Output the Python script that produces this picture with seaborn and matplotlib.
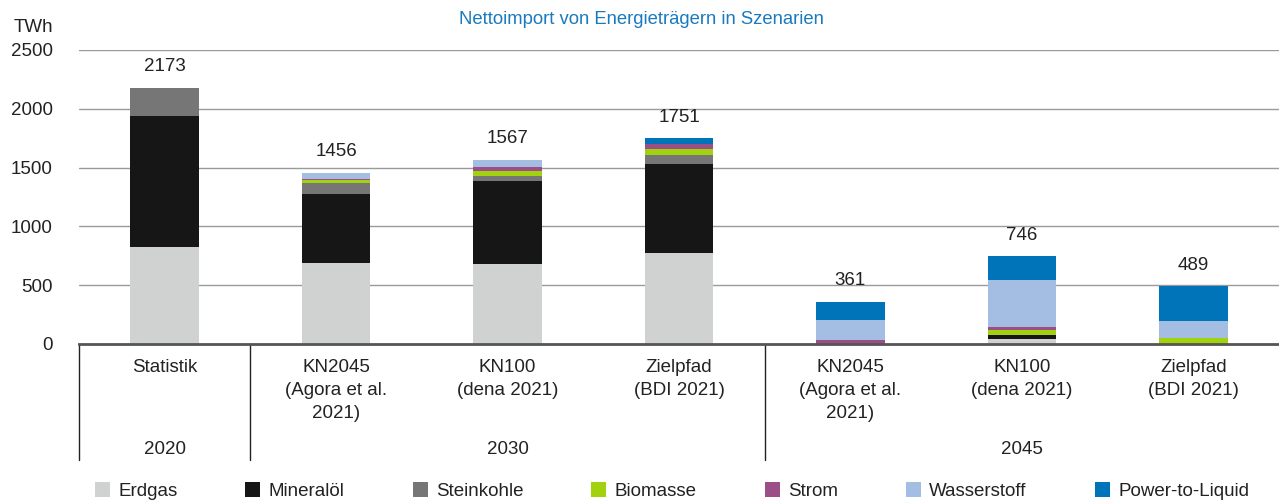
import matplotlib
matplotlib.use("Agg")
import matplotlib.pyplot as plt
import matplotlib.transforms as mtransforms
from matplotlib.patches import Patch
import numpy as np
import pandas as pd
import seaborn as sns

# ---------------- data ----------------
categories = ["Statistik",
              "KN2045\n(Agora et al.\n2021)", "KN100\n(dena 2021)", "Zielpfad\n(BDI 2021)",
              "KN2045\n(Agora et al.\n2021)", "KN100\n(dena 2021)", "Zielpfad\n(BDI 2021)"]
years = ["2020", "2030", "2045"]
year_groups = [[0], [1, 2, 3], [4, 5, 6]]

erdgas      = [826, 688, 678, 773,   0,  40,   0]
mineraloel  = [1110, 585, 706, 757,  0,  34,   0]
steinkohle  = [244,  95,  48,  80,   0,   0,   0]
biomasse    = [0,    25,  37,  48,   0,  48,  49]
strom       = [-7,   13,  40,  42,  30,  21,   0]
wasserstoff = [0,    50,  58,   0, 173, 404, 145]
ptl         = [0,     0,   0,  51, 158, 199, 295]
totals      = [2173, 1456, 1567, 1751, 361, 746, 489]

series_names = ["Erdgas", "Mineralöl", "Steinkohle", "Biomasse", "Strom",
                "Wasserstoff", "Power-to-Liquid"]
series_vals = [erdgas, mineraloel, steinkohle, biomasse, strom, wasserstoff, ptl]
colors = ["#d0d2d1", "#161616", "#767676", "#a2d20e", "#9b4f86", "#a3bde3", "#0074b8"]

# ---------------- figure ----------------
sns.set_theme(style="white")
plt.rcParams["font.family"] = ["Liberation Sans", "DejaVu Sans"]

W, H = 1279, 503
FS = 13.5
fig = plt.figure(figsize=(W / 100, H / 100), dpi=100)
ax_left, ax_right = 79 / W, 1279 / W
ax_bottom = 1 - 344 / H
ax_top = 1 - 50 / H
ax = fig.add_axes([ax_left, ax_bottom, ax_right - ax_left, ax_top - ax_bottom])

xpos = [str(i) for i in range(len(categories))]
pos_vals = [[max(v, 0) for v in s] for s in series_vals]
cum = np.cumsum(np.array(pos_vals, dtype=float), axis=0)

# draw cumulative stacks from top layer down so lower layers overlay
for k in range(len(series_names) - 1, -1, -1):
    df = pd.DataFrame({"cat": xpos, "val": cum[k]})
    sns.barplot(data=df, x="cat", y="val", color=colors[k], width=0.4,
                saturation=1, ax=ax, linewidth=0, zorder=3)

# negative parts (below zero)
neg = [min(v, 0) for v in strom]
dfn = pd.DataFrame({"cat": xpos, "val": neg})
sns.barplot(data=dfn, x="cat", y="val", color=colors[4], width=0.4,
            saturation=1, ax=ax, linewidth=0, zorder=3)

ax.set_xlim(-0.5, len(categories) - 0.5)
ax.set_ylim(0, 2500)
ax.set_yticks([0, 500, 1000, 1500, 2000, 2500])
ax.set_yticklabels(["0", "500", "1000", "1500", "2000", "2500"], fontsize=FS, color="#222222")
ax.tick_params(axis="y", length=0, pad=19)
ax.set_xticks([])
ax.set_xlabel("")
ax.set_ylabel("")
for s in ["top", "right", "left"]:
    ax.spines[s].set_visible(False)
ax.spines["bottom"].set_color("#555555")
ax.spines["bottom"].set_linewidth(2)
ax.spines["bottom"].set_zorder(4)
for y in [500, 1000, 1500, 2000, 2500]:
    ax.axhline(y, color="#9a9a9a", lw=1.0, zorder=1)

# value labels
for i, t in enumerate(totals):
    top = cum[-1][i]
    ax.annotate(str(t), (i, top), xytext=(0, 9), textcoords="offset points",
                ha="center", va="bottom", fontsize=FS, color="#222222")

# category labels and separators
trans = mtransforms.blended_transform_factory(ax.transData, fig.transFigure)
for i, c in enumerate(categories):
    ax.text(i, 1 - 359 / H, c, transform=trans, ha="center", va="top",
            fontsize=FS, color="#222222", linespacing=1.48)
for g, yr in zip(year_groups, years):
    ax.text(np.mean(g), 1 - 449 / H, yr, transform=trans, ha="center", va="center",
            fontsize=FS, color="#222222")
for xs in [-0.5, 0.5, 3.5]:
    ax.plot([xs, xs], [1 - 344 / H, 1 - 460 / H], transform=trans, color="#222222",
            lw=1, clip_on=False)

# title and unit
fig.text(641 / W, 1 - 20 / H, "Nettoimport von Energieträgern in Szenarien",
         ha="center", va="center", fontsize=13.3, color="#1a7abf")
fig.text(33 / W, 1 - 28 / H, "TWh", ha="center", va="center", fontsize=FS, color="#222222")

# legend
handles = [Patch(facecolor=c, edgecolor="none", label=n) for n, c in zip(series_names, colors)]
fig.legend(handles=handles, loc="center", bbox_to_anchor=(672 / W, 1 - 491 / H), ncol=7,
           frameon=False, fontsize=FS, handlelength=0.8, handleheight=0.8,
           handletextpad=0.45, columnspacing=3.62, labelcolor="#222222")

fig.savefig("out.png", dpi=100)
